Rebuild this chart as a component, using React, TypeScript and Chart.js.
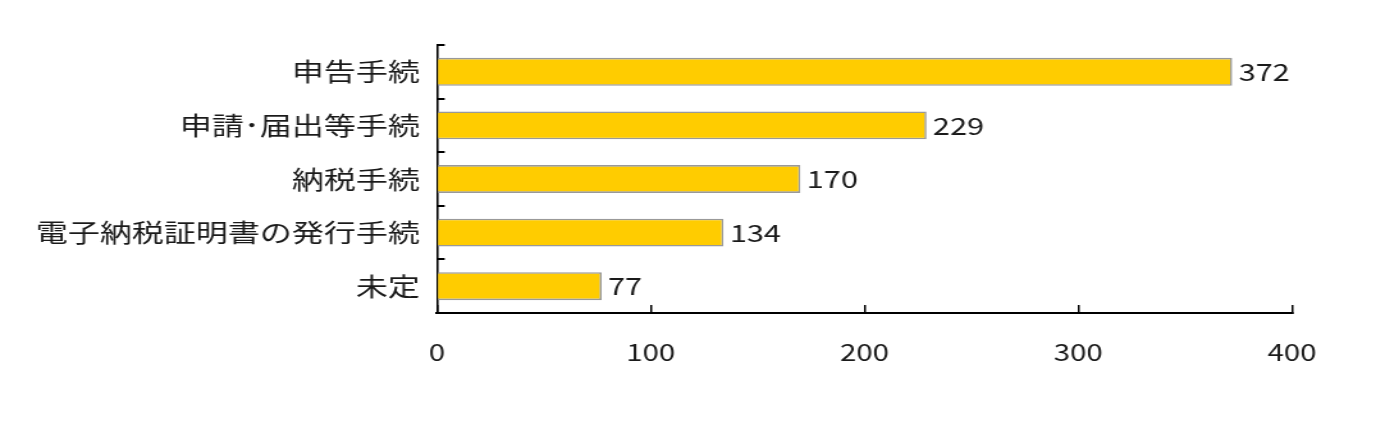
import React, { useEffect, useRef } from 'react';
import { Chart, registerables } from 'chart.js';

Chart.register(...registerables);

const categories: string[] = ['申告手続', '申請･届出等手続', '納税手続', '電子納税証明書の発行手続', '未定'];
const values: number[] = [372, 229, 170, 134, 77];
const xTickValues: number[] = [0, 100, 200, 300, 400];

const SX = 1.28;
const W = 1388 / SX;
const H = 426;
const FONT = '"Noto Sans CJK JP", "Noto Sans", sans-serif';

const valueLabels = {
  id: 'valueLabels',
  afterDatasetsDraw(chart: any) {
    const ctx = chart.ctx;
    const meta = chart.getDatasetMeta(0);
    ctx.save();
    ctx.font = `24px ${FONT}`;
    ctx.fillStyle = '#1a1a1a';
    ctx.textAlign = 'left';
    ctx.textBaseline = 'middle';
    meta.data.forEach((bar: any, i: number) => {
      ctx.fillText(String(values[i]), bar.x + 5, bar.y);
    });
    ctx.restore();
  },
};

export default function App() {
  const ref = useRef<HTMLCanvasElement | null>(null);

  useEffect(() => {
    if (!ref.current) return;
    const chart = new Chart(ref.current, {
      type: 'bar',
      data: {
        labels: categories,
        datasets: [
          {
            data: values,
            backgroundColor: '#FFCC00',
            borderColor: '#999999',
            borderWidth: 1.6,
            barPercentage: 0.52,
            categoryPercentage: 1,
          },
        ],
      },
      options: {
        indexAxis: 'y',
        animation: false,
        responsive: true,
        maintainAspectRatio: false,
        layout: { padding: { top: 45, right: W - 1292 / SX, left: 0, bottom: 0 } },
        plugins: { legend: { display: false }, tooltip: { enabled: false } },
        scales: {
          x: {
            type: 'linear',
            min: 0,
            max: 400,
            afterBuildTicks: (s: any) => {
              s.ticks = xTickValues.map((v) => ({ value: v }));
            },
            grid: { drawOnChartArea: false, drawTicks: true, tickLength: -8, color: '#000', lineWidth: 1.5 },
            border: { display: true, color: '#000', width: 2 },
            ticks: { padding: 33, color: '#1a1a1a', font: { family: FONT, size: 23 } },
            afterFit: (s: any) => {
              s.height = H - 313;
            },
          },
          y: {
            grid: { offset: true, drawOnChartArea: false, drawTicks: true, tickLength: -6, color: '#000', lineWidth: 2 },
            border: { display: true, color: '#000', width: 1.6 },
            ticks: { padding: 19.5, color: '#1a1a1a', font: { family: FONT, size: 25 } },
            afterFit: (s: any) => {
              s.width = 437 / SX;
            },
          },
        },
      } as any,
      plugins: [valueLabels],
    });
    return () => chart.destroy();
  }, []);

  return (
    <div
      style={{
        position: 'absolute',
        left: 0,
        top: 0,
        width: W,
        height: H,
        transform: `scaleX(${SX})`,
        transformOrigin: '0 0',
      }}
    >
      <canvas ref={ref} />
    </div>
  );
}
